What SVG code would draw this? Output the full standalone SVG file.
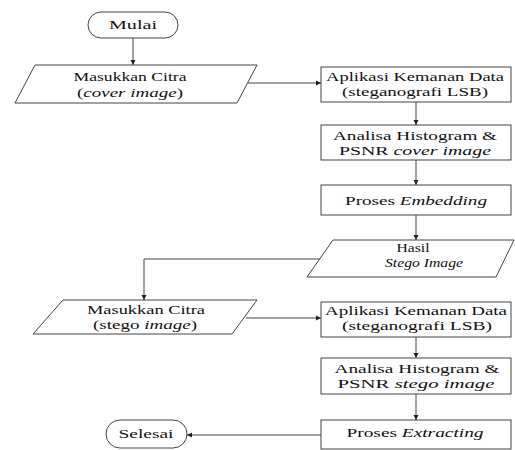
<svg xmlns="http://www.w3.org/2000/svg" width="515" height="450" viewBox="0 0 515 450">
<style>
.s{fill:#fff;stroke:#444;stroke-width:1}
.c{fill:none;stroke:#444;stroke-width:1}
text{font-family:"Liberation Serif","Times New Roman",serif;font-size:13.5px;fill:#111;text-anchor:middle}
.i{font-style:italic}
</style>
<defs>
<marker id="ah" markerWidth="6" markerHeight="6" refX="5" refY="3" orient="auto" markerUnits="userSpaceOnUse">
<path d="M0,0.5 L5,3 L0,5.5 Z" fill="#222"/>
</marker>
</defs>
<rect width="515" height="450" fill="#fff"/>
<g id="connectors">
<line class="c" x1="133" y1="38" x2="133" y2="65" marker-end="url(#ah)"/>
<line class="c" x1="248" y1="83" x2="321" y2="83" marker-end="url(#ah)"/>
<line class="c" x1="416" y1="102" x2="416" y2="125" marker-end="url(#ah)"/>
<line class="c" x1="416" y1="160" x2="416" y2="185" marker-end="url(#ah)"/>
<line class="c" x1="416" y1="215" x2="416" y2="240" marker-end="url(#ah)"/>
<polyline class="c" points="320,259 144,259 144,300" marker-end="url(#ah)"/>
<line class="c" x1="246" y1="318" x2="321" y2="318" marker-end="url(#ah)"/>
<line class="c" x1="416" y1="337" x2="416" y2="358" marker-end="url(#ah)"/>
<line class="c" x1="416" y1="394" x2="416" y2="420" marker-end="url(#ah)"/>
<line class="c" x1="321" y1="435" x2="187" y2="435" marker-end="url(#ah)"/>
</g>
<g id="mulai">
<rect class="s" x="88" y="12" width="90" height="26" rx="13" ry="13"/>
<text x="133" y="29" textLength="48" lengthAdjust="spacingAndGlyphs">Mulai</text>
</g>
<g id="input-cover">
<polygon class="s" points="35,65 257,65 237,103 15,103"/>
<text x="130" y="81" textLength="113" lengthAdjust="spacingAndGlyphs">Masukkan Citra</text>
<text x="130" y="97" textLength="106" lengthAdjust="spacingAndGlyphs">(<tspan class="i">cover image</tspan>)</text>
</g>
<g id="aplikasi-1">
<rect class="s" x="321" y="67" width="190" height="35"/>
<text x="415" y="81" textLength="178" lengthAdjust="spacingAndGlyphs">Aplikasi Kemanan Data</text>
<text x="415" y="96" textLength="146" lengthAdjust="spacingAndGlyphs">(steganografi LSB)</text>
</g>
<g id="analisa-1">
<rect class="s" x="321" y="125" width="190" height="35"/>
<text x="415" y="140" textLength="164" lengthAdjust="spacingAndGlyphs">Analisa Histogram &amp;</text>
<text x="415" y="155" textLength="152" lengthAdjust="spacingAndGlyphs">PSNR <tspan class="i">cover image</tspan></text>
</g>
<g id="embedding">
<rect class="s" x="321" y="185" width="190" height="30"/>
<text x="416" y="205" textLength="142" lengthAdjust="spacingAndGlyphs">Proses <tspan class="i">Embedding</tspan></text>
</g>
<g id="hasil">
<polygon class="s" points="333,240 514,240 496,277 307,277"/>
<text x="413" y="252" textLength="33" lengthAdjust="spacingAndGlyphs">Hasil</text>
<text x="424" y="267" class="i" textLength="78" lengthAdjust="spacingAndGlyphs">Stego Image</text>
</g>
<g id="input-stego">
<polygon class="s" points="63,300 257,300 232,334 33,334"/>
<text x="146" y="314" textLength="118" lengthAdjust="spacingAndGlyphs">Masukkan Citra</text>
<text x="145" y="329" textLength="104" lengthAdjust="spacingAndGlyphs">(stego <tspan class="i">image</tspan>)</text>
</g>
<g id="aplikasi-2">
<rect class="s" x="321" y="302" width="190" height="35"/>
<text x="416" y="315" textLength="182" lengthAdjust="spacingAndGlyphs">Aplikasi Kemanan Data</text>
<text x="417" y="330" textLength="150" lengthAdjust="spacingAndGlyphs">(steganografi LSB)</text>
</g>
<g id="analisa-2">
<rect class="s" x="321" y="358" width="190" height="36"/>
<text x="417" y="373" textLength="165" lengthAdjust="spacingAndGlyphs">Analisa Histogram &amp;</text>
<text x="416" y="388" textLength="157" lengthAdjust="spacingAndGlyphs">PSNR <tspan class="i">stego image</tspan></text>
</g>
<g id="extracting">
<rect class="s" x="321" y="420" width="190" height="29"/>
<text x="415" y="437" textLength="137" lengthAdjust="spacingAndGlyphs">Proses <tspan class="i">Extracting</tspan></text>
</g>
<g id="selesai">
<rect class="s" x="106" y="420" width="81" height="28" rx="14" ry="14"/>
<text x="146" y="438" textLength="55" lengthAdjust="spacingAndGlyphs">Selesai</text>
</g>
</svg>
